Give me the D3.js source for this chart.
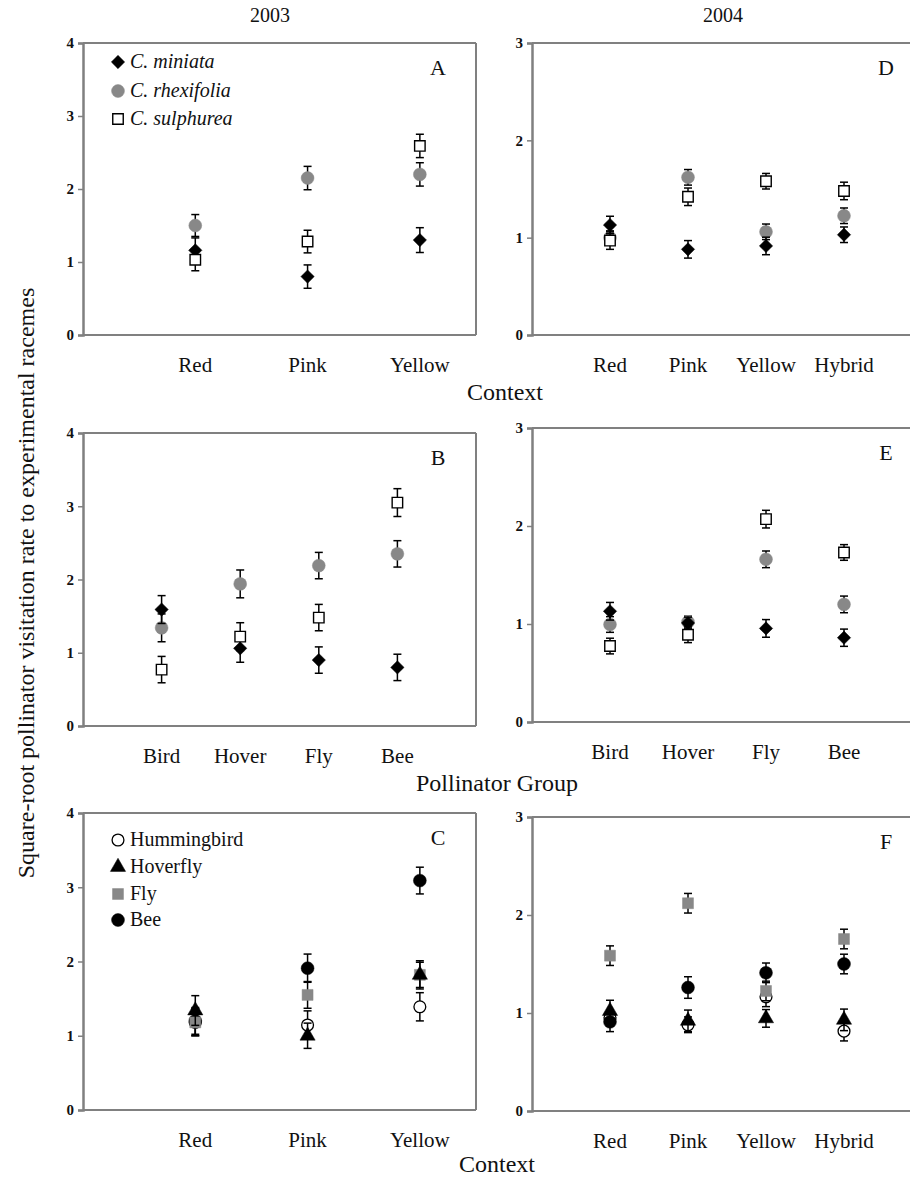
<!DOCTYPE html>
<html><head><meta charset="utf-8">
<script src="https://cdn.jsdelivr.net/npm/d3@7"></script>
<style>body{margin:0;background:#fff}svg{display:block}text{font-family:"Liberation Serif","Times New Roman",serif;fill:#111}</style>
</head><body>
<script>
// ---------- data ----------
const contexts2003 = ["Red", "Pink", "Yellow"];
const contexts2004 = ["Red", "Pink", "Yellow", "Hybrid"];
const pollinatorGroups = ["Bird", "Hover", "Fly", "Bee"];
const speciesNames = ["C. miniata", "C. rhexifolia", "C. sulphurea"];
const visitorNames = ["Hummingbird", "Hoverfly", "Fly", "Bee"];
const yTicks2003 = [0, 1, 2, 3, 4];
const yTicks2004 = [0, 1, 2, 3];

// Panel A (2003, by context): mean, se
const A_miniata = [1.16, 0.80, 1.30];
const A_miniataErr = [0.17, 0.16, 0.17];
const A_rhexifolia = [1.50, 2.15, 2.20];
const A_rhexifoliaErr = [0.15, 0.16, 0.16];
const A_sulphurea = [1.03, 1.28, 2.59];
const A_sulphureaErr = [0.15, 0.155, 0.16];

// Panel D (2004, by context)
const D_miniata = [1.13, 0.88, 0.915, 1.03];
const D_miniataErr = [0.09, 0.09, 0.09, 0.08];
const D_rhexifolia = [1.00, 1.62, 1.06, 1.225];
const D_rhexifoliaErr = [0.07, 0.08, 0.08, 0.08];
const D_sulphurea = [0.97, 1.42, 1.58, 1.48];
const D_sulphureaErr = [0.09, 0.09, 0.08, 0.09];

// Panel B (2003, by pollinator group)
const B_miniata = [1.59, 1.06, 0.90, 0.80];
const B_miniataErr = [0.19, 0.19, 0.18, 0.18];
const B_rhexifolia = [1.34, 1.94, 2.19, 2.35];
const B_rhexifoliaErr = [0.19, 0.19, 0.18, 0.18];
const B_sulphurea = [0.77, 1.22, 1.48, 3.05];
const B_sulphureaErr = [0.18, 0.19, 0.18, 0.19];

// Panel E (2004, by pollinator group)
const E_miniata = [1.13, 1.01, 0.955, 0.86];
const E_miniataErr = [0.09, 0.06, 0.09, 0.088];
const E_rhexifolia = [0.995, 1.02, 1.66, 1.20];
const E_rhexifoliaErr = [0.08, 0.06, 0.085, 0.085];
const E_sulphurea = [0.775, 0.89, 2.07, 1.73];
const E_sulphureaErr = [0.08, 0.08, 0.09, 0.08];

// Panel C (2003, visitors by context)
const C_hummingbird = [1.18, 1.145, 1.39];
const C_hummingbirdErr = [0.18, 0.19, 0.19];
const C_hoverfly = [1.34, 1.00, 1.82];
const C_hoverflyErr = [0.20, 0.17, 0.19];
const C_fly = [1.18, 1.55, 1.82];
const C_flyErr = [0.18, 0.18, 0.17];
const C_bee = [1.20, 1.91, 3.09];
const C_beeErr = [0.18, 0.19, 0.18];

// Panel F (2004, visitors by context)
const F_hummingbird = [0.95, 0.88, 1.165, 0.815];
const F_hummingbirdErr = [0.08, 0.08, 0.10, 0.10];
const F_hoverfly = [1.02, 0.92, 0.945, 0.93];
const F_hoverflyErr = [0.11, 0.11, 0.09, 0.11];
const F_fly = [1.585, 2.12, 1.225, 1.755];
const F_flyErr = [0.10, 0.10, 0.10, 0.10];
const F_bee = [0.91, 1.26, 1.41, 1.50];
const F_beeErr = [0.10, 0.11, 0.10, 0.10];

// ---------- drawing ----------
const W = 910, H = 1177;
const svg = d3.select("body").append("svg").attr("width", W).attr("height", H);
const AXIS = "#808080";

const markerStyles = {
  diamond: {type: d3.symbolSquare, size: 88, rot: 45, fill: "#000", stroke: "#000", sw: 0.5},
  grayCircle: {type: d3.symbolCircle, size: 130, fill: "#888", stroke: "#888", sw: 0.5},
  openSquare: {type: d3.symbolSquare, size: 110, fill: "#fff", stroke: "#000", sw: 1.4},
  openCircle: {type: d3.symbolCircle, size: 110, fill: "#fff", stroke: "#000", sw: 1.3},
  triangle: {type: d3.symbolTriangle, size: 100, fill: "#000", stroke: "#000", sw: 0.5},
  graySquare: {type: d3.symbolSquare, size: 120, fill: "#888", stroke: "#888", sw: 0.5},
  blackCircle: {type: d3.symbolCircle, size: 130, fill: "#000", stroke: "#000", sw: 0.5}
};

function drawMarker(g, x, y, st) {
  g.append("path").attr("transform", `translate(${x},${y}) rotate(${st.rot || 0})`)
    .attr("d", d3.symbol().type(st.type).size(st.size)())
    .attr("fill", st.fill).attr("stroke", st.stroke).attr("stroke-width", st.sw);
}

function panel(opts) {
  const {left, right, top, bottom, yMax, yTicks, cats, xMax, series, letter, frameRight} = opts;
  const x = d3.scaleLinear().domain([0, xMax]).range([left, right]);
  const y = d3.scaleLinear().domain([0, yMax]).range([bottom, top]);
  const g = svg.append("g");
  g.append("line").attr("x1", left).attr("x2", right).attr("y1", top).attr("y2", top).attr("stroke", AXIS).attr("stroke-width", 2);
  g.append("line").attr("x1", left).attr("x2", right).attr("y1", bottom).attr("y2", bottom).attr("stroke", AXIS).attr("stroke-width", 2);
  if (frameRight) g.append("line").attr("x1", right).attr("x2", right).attr("y1", top).attr("y2", bottom).attr("stroke", AXIS).attr("stroke-width", 2);
  const ya = d3.axisLeft(y).tickValues(yTicks).tickFormat(d3.format("d")).tickSize(5).tickPadding(4);
  const yg = g.append("g").attr("transform", `translate(${left},0)`).call(ya);
  yg.select(".domain").attr("stroke", AXIS).attr("stroke-width", 2.5);
  yg.selectAll(".tick line").attr("stroke", AXIS).attr("stroke-width", 1.5);
  yg.selectAll(".tick text").attr("font-size", 15).attr("font-weight", "bold").style("font-family", '"Liberation Serif",serif').attr("fill", "#222");
  g.selectAll(".xl").data(cats).enter().append("text")
    .attr("x", (d, i) => x(i + 1)).attr("y", bottom + 37)
    .attr("text-anchor", "middle").attr("font-size", 21).text(d => d);
  g.append("text").attr("x", left + (opts.letterX)).attr("y", top + 32).attr("text-anchor", "middle").attr("font-size", 22).text(letter);
  series.forEach(s => {
    const st = markerStyles[s.marker];
    s.values.forEach((v, i) => {
      const cx = x(i + 1), e = s.err[i];
      const cap = 4;
      g.append("line").attr("x1", cx).attr("x2", cx).attr("y1", y(v - e)).attr("y2", y(v + e)).attr("stroke", "#000").attr("stroke-width", 1.5);
      [v - e, v + e].forEach(t => g.append("line").attr("x1", cx - cap).attr("x2", cx + cap).attr("y1", y(t)).attr("y2", y(t)).attr("stroke", "#000").attr("stroke-width", 1.5));
    });
    s.values.forEach((v, i) => drawMarker(g, x(i + 1), y(v), st));
  });
  return {x, y};
}

const L = {left: 83, right: 476}, R = {left: 532, right: 922};

const speciesSeries = (m, me, r, re, s, se) => [
  {values: r, err: re, marker: "grayCircle"},
  {values: m, err: me, marker: "diamond"},
  {values: s, err: se, marker: "openSquare"}
];
const visitorSeries = (hb, hbe, hv, hve, fl, fle, be, bee) => [
  {values: hb, err: hbe, marker: "openCircle"},
  {values: be, err: bee, marker: "blackCircle"},
  {values: fl, err: fle, marker: "graySquare"},
  {values: hv, err: hve, marker: "triangle"}
];

panel({...L, top: 43, bottom: 335, yMax: 4, yTicks: yTicks2003, cats: contexts2003, xMax: 3.5, letter: "A", letterX: 355, frameRight: true,
  series: speciesSeries(A_miniata, A_miniataErr, A_rhexifolia, A_rhexifoliaErr, A_sulphurea, A_sulphureaErr)});
panel({...R, top: 43, bottom: 335, yMax: 3, yTicks: yTicks2004, cats: contexts2004, xMax: 5, letter: "D", letterX: 354, frameRight: true,
  series: speciesSeries(D_miniata, D_miniataErr, D_rhexifolia, D_rhexifoliaErr, D_sulphurea, D_sulphureaErr)});
panel({...L, top: 433, bottom: 726, yMax: 4, yTicks: yTicks2003, cats: pollinatorGroups, xMax: 5, letter: "B", letterX: 355, frameRight: true,
  series: speciesSeries(B_miniata, B_miniataErr, B_rhexifolia, B_rhexifoliaErr, B_sulphurea, B_sulphureaErr)});
panel({...R, top: 428, bottom: 722, yMax: 3, yTicks: yTicks2004, cats: pollinatorGroups, xMax: 5, letter: "E", letterX: 354, frameRight: true,
  series: speciesSeries(E_miniata, E_miniataErr, E_rhexifolia, E_rhexifoliaErr, E_sulphurea, E_sulphureaErr)});
panel({...L, top: 813, bottom: 1110, yMax: 4, yTicks: yTicks2003, cats: contexts2003, xMax: 3.5, letter: "C", letterX: 355, frameRight: true,
  series: visitorSeries(C_hummingbird, C_hummingbirdErr, C_hoverfly, C_hoverflyErr, C_fly, C_flyErr, C_bee, C_beeErr)});
panel({...R, top: 817, bottom: 1111, yMax: 3, yTicks: yTicks2004, cats: contexts2004, xMax: 5, letter: "F", letterX: 354, frameRight: true,
  series: visitorSeries(F_hummingbird, F_hummingbirdErr, F_hoverfly, F_hoverflyErr, F_fly, F_flyErr, F_bee, F_beeErr)});

function legend(x0, ys, names, markers, italic) {
  names.forEach((n, i) => {
    drawMarker(svg, x0, ys[i], markerStyles[markers[i]]);
    svg.append("text").attr("x", x0 + 12).attr("y", ys[i] + 6).attr("font-size", 20)
      .attr("font-style", italic ? "italic" : "normal").text(n);
  });
}
legend(118, [62, 91, 119], speciesNames, ["diamond", "grayCircle", "openSquare"], true);
legend(118, [840, 867, 894, 920], visitorNames, ["openCircle", "triangle", "graySquare", "blackCircle"], false);

svg.append("text").attr("x", 270).attr("y", 22).attr("text-anchor", "middle").attr("font-size", 20).text("2003");
svg.append("text").attr("x", 723).attr("y", 22).attr("text-anchor", "middle").attr("font-size", 20).text("2004");
svg.append("text").attr("x", 505).attr("y", 400).attr("text-anchor", "middle").attr("font-size", 24).text("Context");
svg.append("text").attr("x", 497).attr("y", 791).attr("text-anchor", "middle").attr("font-size", 24).text("Pollinator Group");
svg.append("text").attr("x", 497).attr("y", 1172).attr("text-anchor", "middle").attr("font-size", 24).text("Context");
svg.append("text").attr("transform", "translate(34,583) rotate(-90)").attr("text-anchor", "middle").attr("font-size", 24)
  .text("Square-root pollinator visitation rate to experimental racemes");
</script>
</body></html>
